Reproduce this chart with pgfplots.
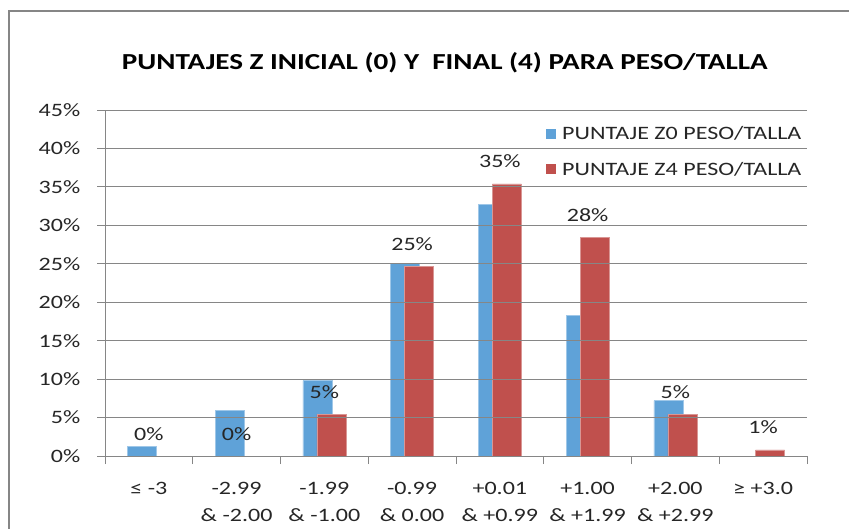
\documentclass[border=0pt]{standalone}
\usepackage{fontspec}
\setmainfont{Carlito}[FakeStretch=1.27]
\usepackage{pgfplots}
\pgfplotsset{compat=1.18}
\usepackage{pgfplotstable}
\definecolor{zblue}{HTML}{5FA2D8}
\definecolor{zred}{HTML}{C0504D}
\definecolor{gridgray}{HTML}{868686}
\definecolor{txt}{HTML}{262626}

\pgfplotstableread{
x z0 z4
0 1.3 0
1 5.9 0
2 9.8 5.4
3 25.0 24.7
4 32.7 35.4
5 18.3 28.4
6 7.2 5.4
7 0 0.8
}\datatable

\begin{document}
\begin{tikzpicture}
\begin{axis}[
  at={(105bp,73bp)}, anchor=south west,
  scale only axis, width=702bp, height=346bp,
  ymin=0, ymax=45, ytick={0,5,...,45},
  xmin=-0.5, xmax=7.5,
  xtick={-0.5,0.5,...,7.5},
  xticklabels={{≤ -3},{-2.99\\\& -2.00},{-1.99\\\& -1.00},{-0.99\\\& 0.00},{+0.01\\\& +0.99},{+1.00\\\& +1.99},{+2.00\\\& +2.99},{≥ +3.0},{}},
  xticklabel style={xshift=43.875bp, align=center, anchor=north, font=\fontsize{19}{27}\selectfont, text=txt, yshift=-15bp},
  yticklabel={\pgfmathprintnumber{\tick}\%},
  yticklabel style={font=\fontsize{19}{23}\selectfont, text=txt, anchor=east, inner xsep=16.5bp},
  /pgf/number format/assume math mode=true,
  tick align=outside, major tick length=8bp,
  tick style={draw=gridgray, line width=0.8bp},
  axis x line*=bottom, axis y line*=left,
  axis line style={draw=gridgray, line width=0.8bp, -},
  ymajorgrids, grid style={draw=gridgray, line width=0.8bp},
  axis on top,
  ybar, bar width=29bp,
  title={PUNTAJES Z INICIAL (0) Y\ \ FINAL (4) PARA PESO/TALLA},
  title style={at={(0.484,1)}, anchor=base, yshift=35bp, font=\bfseries\fontsize{23}{28}\selectfont},
  legend style={at={(0.624,0.965)}, anchor=north west, draw=none, fill=none,
    font=\fontsize{19}{23}\selectfont, text=txt, row sep=17bp},
  legend cell align=left,
  legend image code/.code={\fill[#1,draw=none] (0bp,-5bp) rectangle (10bp,5bp); \path[draw=none,fill=none] (0bp,0bp) -- (14bp,0bp);},
]
\addplot[bar shift=-7bp, fill=zblue, draw=zblue!60!white, line width=0.6bp] table[x=x, y=z0] {\datatable};
\addlegendentry{PUNTAJE Z0 PESO/TALLA}
\addplot[bar shift=7bp, fill=zred, draw=zred!60!white, line width=0.6bp,
  point meta=y,
  nodes near coords={\pgfmathprintnumber[fixed,precision=0]{\pgfplotspointmeta}\%},
  every node near coord/.style={anchor=base, yshift=16bp, font=\fontsize{19}{23}\selectfont, text=txt}]
  table[x=x, y=z4] {\datatable};
\addlegendentry{PUNTAJE Z4 PESO/TALLA}
\end{axis}
\draw[gridgray, line width=1.2bp] (9bp,-10bp) -- (9bp,518bp) -- (870bp,518bp);
\pgfresetboundingbox
\path[use as bounding box] (0,0) rectangle (849bp,529bp);
\end{tikzpicture}
\end{document}
